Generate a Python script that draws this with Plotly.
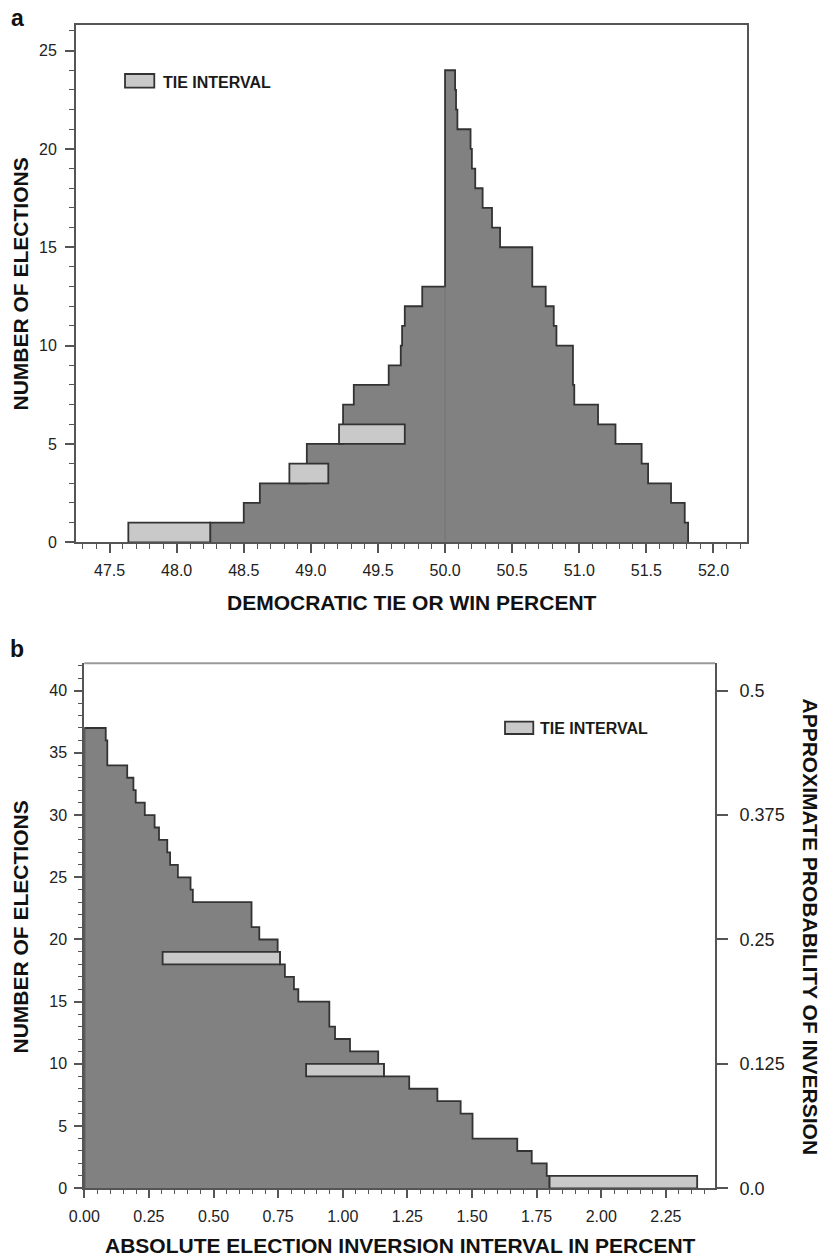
import plotly.graph_objects as go

# ---------------- data ----------------
# Panel a: number of elections by Democratic tie-or-win percent (step outline)
a_step_x = [48.25, 48.50, 48.62, 48.97, 49.24, 49.32, 49.58, 49.67, 49.68, 49.70,
            49.83, 50.00, 50.075, 50.082, 50.092, 50.19, 50.20, 50.225, 50.28, 50.35,
            50.41, 50.65, 50.75, 50.81, 50.83, 50.953, 50.963, 51.14, 51.27, 51.465,
            51.513, 51.684, 51.786, 51.811]
a_step_n = [1, 2, 3, 5, 7, 8, 9, 10, 11, 12,
            13, 24, 23, 22, 21, 20, 19, 18, 17, 16,
            15, 13, 12, 11, 10, 8, 7, 6, 5, 4,
            3, 2, 1, 0]
# Tie intervals: start, end, stacked base
a_tie_lo = [47.64, 48.84, 49.21]
a_tie_hi = [48.25, 49.13, 49.70]
a_tie_base = [0, 3, 5]
a_tie_line = 50.0

a_xticks = [47.5, 48.0, 48.5, 49.0, 49.5, 50.0, 50.5, 51.0, 51.5, 52.0]
a_yticks = [0, 5, 10, 15, 20, 25]

# Panel b: number of elections by absolute inversion interval
b_step_x = [0.0, 0.083, 0.089, 0.166, 0.190, 0.199, 0.234, 0.272, 0.289, 0.321,
            0.332, 0.362, 0.411, 0.420, 0.647, 0.677, 0.748, 0.757, 0.776, 0.811,
            0.828, 0.948, 0.970, 1.028, 1.137, 1.159, 1.257, 1.366, 1.456, 1.502,
            1.675, 1.731, 1.789, 1.80]
b_step_n = [37, 36, 34, 33, 32, 31, 30, 29, 28, 27,
            26, 25, 24, 23, 21, 20, 19, 18, 17, 16,
            15, 13, 12, 11, 10, 9, 8, 7, 6, 4,
            3, 2, 1, 0]
b_tie_lo = [0.303, 0.858, 1.80]
b_tie_hi = [0.757, 1.159, 2.371]
b_tie_base = [18, 9, 0]

b_xticks = [0.0, 0.25, 0.5, 0.75, 1.0, 1.25, 1.5, 1.75, 2.0, 2.25]
b_yticks = [0, 5, 10, 15, 20, 25, 30, 35, 40]
b_prob_ticks = [0.0, 0.125, 0.25, 0.375, 0.5]
b_prob_labels = ["0.0", "0.125", "0.25", "0.375", "0.5"]
total_elections = 80

# ---------------- styling ----------------
W, H = 824, 1260
FONT = "Liberation Sans"
DARK_FILL = "#818181"
TIE_FILL = "#c9c9c9"
OUTLINE = "#333333"
AXIS = "#555555"


def fx(p):
    return p / W


def fy(p):
    return 1 - p / H


a_xr = [47.25, 52.25]
a_yr = [0, 26.3]
b_xr = [0, 2.44]
b_yr = [0, 42.2]

fig = go.Figure()

fig.add_trace(go.Scatter(
    x=[a_step_x[0]] + a_step_x, y=[0] + a_step_n,
    mode="lines", line=dict(shape="hv", color=OUTLINE, width=1.8),
    fill="tozeroy", fillcolor=DARK_FILL, xaxis="x", yaxis="y",
    showlegend=False, hoverinfo="skip"))

fig.add_trace(go.Scatter(
    x=[b_step_x[0]] + b_step_x, y=[0] + b_step_n,
    mode="lines", line=dict(shape="hv", color=OUTLINE, width=1.8),
    fill="tozeroy", fillcolor=DARK_FILL, xaxis="x2", yaxis="y2",
    showlegend=False, hoverinfo="skip"))

# probability scale companion (same curve, right axis)
fig.add_trace(go.Scatter(
    x=b_step_x, y=[n / total_elections for n in b_step_n],
    mode="lines", line=dict(width=0, color="rgba(0,0,0,0)"),
    xaxis="x2", yaxis="y3", showlegend=False, hoverinfo="skip"))

shapes = []
# faint marker at the 50% line inside the panel a area
shapes.append(dict(type="line", xref="x", yref="y", x0=a_tie_line, x1=a_tie_line,
                   y0=0, y1=13, line=dict(color="#737373", width=1), layer="above"))
for lo, hi, b in zip(a_tie_lo, a_tie_hi, a_tie_base):
    shapes.append(dict(type="rect", xref="x", yref="y", x0=lo, x1=hi, y0=b, y1=b + 1,
                       fillcolor=TIE_FILL, line=dict(color=OUTLINE, width=1.8)))
for lo, hi, b in zip(b_tie_lo, b_tie_hi, b_tie_base):
    shapes.append(dict(type="rect", xref="x2", yref="y2", x0=lo, x1=hi, y0=b, y1=b + 1,
                       fillcolor=TIE_FILL, line=dict(color=OUTLINE, width=1.8)))

# panel b top border (lighter)
shapes.append(dict(type="line", xref="x2 domain", yref="y2 domain", x0=0, x1=1, y0=1, y1=1,
                   line=dict(color="#9a9a9a", width=2)))

# legend swatches
shapes.append(dict(type="rect", xref="paper", yref="paper",
                   x0=fx(125), x1=fx(154.3), y0=fy(87.7), y1=fy(74),
                   fillcolor=TIE_FILL, line=dict(color=OUTLINE, width=1.8)))
shapes.append(dict(type="rect", xref="paper", yref="paper",
                   x0=fx(505), x1=fx(533.3), y0=fy(734), y1=fy(721.7),
                   fillcolor=TIE_FILL, line=dict(color=OUTLINE, width=1.8)))

annotations = [
    dict(text="<b>TIE INTERVAL</b>", x=fx(161), y=fy(82.5), xref="paper", yref="paper",
         xanchor="left", yanchor="middle", showarrow=False,
         font=dict(family=FONT, size=16, color="#1a1a1a")),
    dict(text="<b>TIE INTERVAL</b>", x=fx(538), y=fy(728.3), xref="paper", yref="paper",
         xanchor="left", yanchor="middle", showarrow=False,
         font=dict(family=FONT, size=16, color="#1a1a1a")),
    dict(text="<b>a</b>", x=fx(9), y=fy(18), xref="paper", yref="paper",
         xanchor="left", yanchor="middle", showarrow=False,
         font=dict(family=FONT, size=23, color="#111")),
    dict(text="<b>b</b>", x=fx(8), y=fy(649.5), xref="paper", yref="paper",
         xanchor="left", yanchor="middle", showarrow=False,
         font=dict(family=FONT, size=23, color="#111")),
    dict(text="<b>NUMBER OF ELECTIONS</b>", x=fx(20), y=fy(284.5), xref="paper", yref="paper",
         xanchor="center", yanchor="middle", textangle=-90, showarrow=False,
         font=dict(family=FONT, size=21, color="#111")),
    dict(text="<b>DEMOCRATIC TIE OR WIN PERCENT</b>", x=fx(412), y=fy(602.5),
         xref="paper", yref="paper", xanchor="center", yanchor="middle", showarrow=False,
         font=dict(family=FONT, size=21, color="#111")),
    dict(text="<b>NUMBER OF ELECTIONS</b>", x=fx(20), y=fy(927.5), xref="paper", yref="paper",
         xanchor="center", yanchor="middle", textangle=-90, showarrow=False,
         font=dict(family=FONT, size=21, color="#111")),
    dict(text="<b>APPROXIMATE PROBABILITY OF INVERSION</b>", x=fx(810.5), y=fy(927),
         xref="paper", yref="paper", xanchor="center", yanchor="middle", textangle=90,
         showarrow=False, font=dict(family=FONT, size=21, color="#111")),
    dict(text="<b>ABSOLUTE ELECTION INVERSION INTERVAL IN PERCENT</b>", x=fx(400), y=fy(1245),
         xref="paper", yref="paper", xanchor="center", yanchor="middle", showarrow=False,
         font=dict(family=FONT, size=21, color="#111")),
]

tickfont = dict(family=FONT, size=16, color="#222")
common = dict(showgrid=False, zeroline=False, showline=True, linecolor=AXIS, linewidth=2,
              ticks="outside", tickcolor=AXIS, tickwidth=1.5, tickfont=tickfont,
              automargin=False)

fig.update_layout(
    width=W, height=H,
    margin=dict(l=0, r=0, t=0, b=0),
    paper_bgcolor="white", plot_bgcolor="white",
    showlegend=False,
    shapes=shapes,
    annotations=annotations,
    xaxis=dict(domain=[fx(76), fx(747)], range=a_xr, anchor="y", tickvals=a_xticks,
               tickformat=".1f", ticklen=9, mirror=True, ticklabelstandoff=3,
               minor=dict(dtick=0.1, tick0=47.5, ticklen=5, tickwidth=1.2,
                          tickcolor=AXIS, ticks="outside"),
               **common),
    yaxis=dict(domain=[fy(542.3), fy(25)], range=a_yr, anchor="x", tickvals=a_yticks,
               ticklen=9, mirror=True, ticklabelstandoff=5,
               minor=dict(dtick=1, tick0=0, ticklen=5, tickwidth=1.2,
                          tickcolor=AXIS, ticks="outside"),
               **common),
    xaxis2=dict(domain=[fx(84.3), fx(715)], range=b_xr, anchor="y2", tickvals=b_xticks,
                tickformat=".2f", ticklen=8, ticklabelstandoff=4,
                minor=dict(dtick=0.05, tick0=0, ticklen=4, tickwidth=1.2,
                           tickcolor=AXIS, ticks="outside"),
                **common),
    yaxis2=dict(domain=[fy(1188.3), fy(663.3)], range=b_yr, anchor="x2", tickvals=b_yticks,
                ticklen=8, ticklabelstandoff=4,
                minor=dict(dtick=1, tick0=0, ticklen=4, tickwidth=1.2,
                           tickcolor=AXIS, ticks="outside"),
                **common),
    yaxis3=dict(overlaying="y2", side="right", anchor="x2",
                range=[b_yr[0] / total_elections, b_yr[1] / total_elections],
                tickvals=b_prob_ticks, ticktext=b_prob_labels, ticklen=11,
                ticklabelstandoff=8, automargin=False,
                showgrid=False, zeroline=False, showline=True, linecolor=AXIS, linewidth=2,
                ticks="outside", tickcolor=AXIS, tickwidth=1.5,
                tickfont=dict(family=FONT, size=18, color="#222")),
)

fig.write_html("out.html")
